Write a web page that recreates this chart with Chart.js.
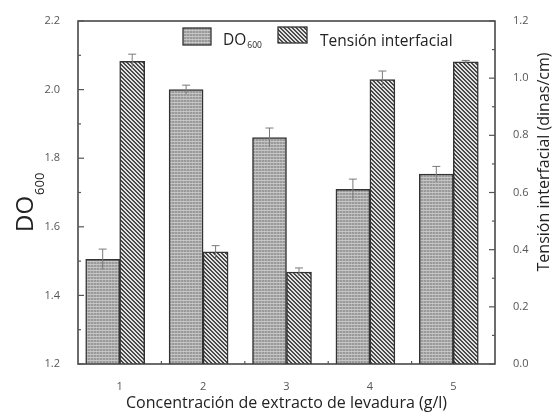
<!DOCTYPE html>
<html><head><meta charset="utf-8">
<script src="https://cdn.jsdelivr.net/npm/chart.js@4.4.1/dist/chart.umd.min.js"></script>
<style>html,body{margin:0;padding:0;background:#fff;}canvas{display:block;}</style>
</head><body>
<canvas id="c" width="552" height="419"></canvas>
<script>
const categories = ['1', '2', '3', '4', '5'];
const doValues = [1.505, 2.000, 1.860, 1.709, 1.754];
const doErrors = [0.030, 0.013, 0.028, 0.030, 0.022];
const tensionValues = [1.059, 0.392, 0.322, 0.995, 1.057];
const tensionErrors = [0.025, 0.022, 0.014, 0.030, 0.005];
const leftTicks = [1.2, 1.4, 1.6, 1.8, 2.0, 2.2];
const rightTicks = [0.0, 0.2, 0.4, 0.6, 0.8, 1.0, 1.2];
const xTitle = 'Concentración de extracto de levadura (g/l)';
const rightTitle = 'Tensión interfacial (dinas/cm)';
const legendDO = ['DO', '600'];
const legendTension = 'Tensión interfacial';

const canvas = document.getElementById('c');
const mainCtx = canvas.getContext('2d');

function gridPattern() {
  const c = document.createElement('canvas'); c.width = 3; c.height = 3;
  const g = c.getContext('2d');
  g.fillStyle = '#9a9a9a'; g.fillRect(0, 0, 3, 3);
  g.fillStyle = '#c6c6c6'; g.fillRect(0, 0, 3, 1);
  g.fillStyle = '#b2b2b2'; g.fillRect(0, 1, 1, 2);
  return mainCtx.createPattern(c, 'repeat');
}
function hatchPattern() {
  const c = document.createElement('canvas'); c.width = 4; c.height = 4;
  const g = c.getContext('2d');
  for (let y = 0; y < 4; y++) for (let x = 0; x < 4; x++) {
    g.fillStyle = (((x - y) % 4 + 4) % 4) < 2 ? '#4a4a4a' : '#e2e2e2';
    g.fillRect(x, y, 1, 1);
  }
  return mainCtx.createPattern(c, 'repeat');
}
const doFill = gridPattern();
const tensionFill = hatchPattern();

function line(ctx, x1, y1, x2, y2) { ctx.beginPath(); ctx.moveTo(x1, y1); ctx.lineTo(x2, y2); ctx.stroke(); }

const errorBars = {
  id: 'errorBars',
  afterDatasetsDraw(chart) {
    const ctx = chart.ctx;
    ctx.save();
    ctx.strokeStyle = '#7a7a7a'; ctx.lineWidth = 1;
    [[0, doValues, doErrors, 'y'], [1, tensionValues, tensionErrors, 'y1']].forEach(([di, vals, errs, ax]) => {
      const meta = chart.getDatasetMeta(di), sc = chart.scales[ax];
      meta.data.forEach((bar, i) => {
        const x = bar.x;
        const yt = sc.getPixelForValue(vals[i] + errs[i]);
        const yb = sc.getPixelForValue(vals[i] - errs[i]);
        line(ctx, x, yt, x, yb);
        line(ctx, x - 4, yt, x + 4, yt);
      });
    });
    ctx.restore();
  }
};

const decor = {
  id: 'decor',
  afterDraw(chart) {
    const {ctx, chartArea: a, scales} = chart;
    ctx.save();
    ctx.strokeStyle = '#3c3c3c'; ctx.lineWidth = 1.5;
    ctx.strokeRect(a.left, a.top, a.right - a.left, a.bottom - a.top);
    ctx.strokeStyle = '#555'; ctx.lineWidth = 1.2;
    const ys = scales.y, yr = scales.y1, xs = scales.x;
    leftTicks.forEach((v, i) => {
      const p = ys.getPixelForValue(v); line(ctx, a.left, p, a.left + 6, p);
      if (i < leftTicks.length - 1) { const m = ys.getPixelForValue((v + leftTicks[i + 1]) / 2); line(ctx, a.left, m, a.left + 3, m); }
    });
    rightTicks.forEach((v, i) => {
      const p = yr.getPixelForValue(v); line(ctx, a.right, p, a.right - 6, p);
      if (i < rightTicks.length - 1) { const m = yr.getPixelForValue((v + rightTicks[i + 1]) / 2); line(ctx, a.right, m, a.right - 3, m); }
    });
    for (let i = 0; i < categories.length - 1; i++) {
      const p = (xs.getPixelForValue(i) + xs.getPixelForValue(i + 1)) / 2;
      line(ctx, p, a.bottom, p, a.bottom - 3);
    }
    // left title DO600
    ctx.fillStyle = '#222';
    ctx.save();
    ctx.translate(33, 232); ctx.rotate(-Math.PI / 2);
    ctx.font = '24px "Open Sans"'; ctx.textBaseline = 'alphabetic'; ctx.textAlign = 'left';
    ctx.fillText('DO', 0, 0);
    const w1 = ctx.measureText('DO').width;
    ctx.font = '13px "Open Sans"';
    ctx.fillText('600', w1 + 1, 11);
    ctx.restore();
    // right title
    ctx.save();
    ctx.translate(549, 162); ctx.rotate(-Math.PI / 2);
    ctx.font = '16px "Open Sans"'; ctx.textAlign = 'center'; ctx.textBaseline = 'alphabetic';
    ctx.fillText(rightTitle, 0, 0);
    ctx.restore();
    // legend
    ctx.lineWidth = 1.3; ctx.strokeStyle = '#333';
    ctx.fillStyle = doFill; ctx.fillRect(183, 28, 28, 17); ctx.strokeRect(183, 28, 28, 17);
    ctx.fillStyle = tensionFill; ctx.fillRect(278, 27, 29, 16); ctx.strokeRect(278, 27, 29, 16);
    ctx.fillStyle = '#222'; ctx.textBaseline = 'alphabetic'; ctx.textAlign = 'left';
    ctx.font = '15.5px "Open Sans"'; ctx.fillText(legendDO[0], 223, 45);
    const wd = ctx.measureText(legendDO[0]).width;
    ctx.font = '8.5px "Open Sans"'; ctx.fillText(legendDO[1], 223 + wd + 1, 48);
    ctx.font = '15.5px "Open Sans"'; ctx.fillText(legendTension, 320, 46);
    ctx.restore();
  }
};

new Chart(canvas, {
  type: 'bar',
  data: {
    labels: categories,
    datasets: [
      { label: 'DO600', data: doValues, yAxisID: 'y', backgroundColor: doFill, borderColor: '#333', borderWidth: 1.5, barThickness: 34 },
      { label: legendTension, data: tensionValues, yAxisID: 'y1', backgroundColor: tensionFill, borderColor: '#333', borderWidth: 1.5, barThickness: 25 }
    ]
  },
  options: {
    responsive: false, animation: false, devicePixelRatio: 1,
    layout: { padding: { top: 21, left: 0, right: 0, bottom: 0 } },
    plugins: { legend: { display: false }, tooltip: { enabled: false } },
    scales: {
      x: {
        grid: { display: false }, border: { display: false },
        ticks: { font: { family: 'Open Sans', size: 11 }, color: '#555', padding: 8 },
        title: { display: true, text: xTitle, font: { family: 'Open Sans', size: 16 }, color: '#222', padding: { top: 2, bottom: 6 } },
        afterFit: s => { s.height = 55; }
      },
      y: {
        position: 'left', min: 1.2, max: 2.2,
        grid: { display: false }, border: { display: false },
        afterBuildTicks: s => { s.ticks = leftTicks.map(v => ({ value: v })); },
        ticks: { font: { family: 'Open Sans', size: 11 }, color: '#555', padding: 10, callback: v => Number(v).toFixed(1) },
        afterFit: s => { s.width = 78; }
      },
      y1: {
        position: 'right', min: 0, max: 1.2,
        grid: { display: false }, border: { display: false },
        afterBuildTicks: s => { s.ticks = rightTicks.map(v => ({ value: v })); },
        ticks: { font: { family: 'Open Sans', size: 11 }, color: '#555', padding: 10, callback: v => Number(v).toFixed(1) },
        afterFit: s => { s.width = 57; }
      }
    }
  },
  plugins: [errorBars, decor]
});
</script>
</body></html>
